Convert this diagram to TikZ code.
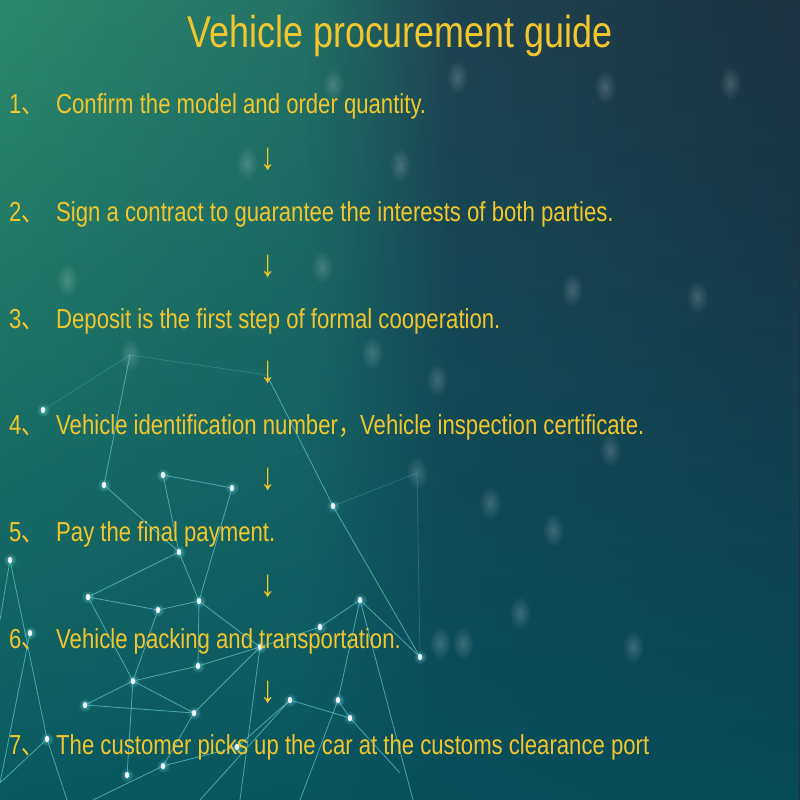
\documentclass[tikz,border=0pt]{standalone}
\usepackage{fontspec}
\setmainfont{Liberation Sans}[FakeStretch=0.805]
\newfontfamily\cjk{Noto Sans CJK SC}[FakeStretch=0.805]
\usetikzlibrary{fadings}
\definecolor{bgA}{RGB}{44,136,106}
\definecolor{bgB}{RGB}{36,114,102}
\definecolor{bgC}{RGB}{30,68,80}
\definecolor{bgD}{RGB}{30,50,64}
\definecolor{bgBot}{RGB}{4,80,94}
\definecolor{txt}{RGB}{242,198,44}
\definecolor{net}{RGB}{110,215,225}
\pgfdeclarehorizontalshading{bgh}{100bp}{color(0bp)=(bgA); color(25bp)=(bgA); color(44bp)=(bgB); color(53bp)=(bgC); color(75bp)=(bgD); color(100bp)=(bgD)}
\tikzfading[name=fuzzy, inner color=transparent!0, outer color=transparent!100]
\tikzset{
  titletext/.style={text=txt, font=\fontsize{44.6}{50}\selectfont, anchor=base, inner sep=0pt},
  numtext/.style={text=txt, font=\fontsize{27.5}{30}\selectfont, anchor=base west, inner sep=0pt},
  itemtext/.style={text=txt, font=\fontsize{27.5}{30}\selectfont, anchor=base west, inner sep=0pt},
  darr/.style={text=txt, font=\fontsize{38}{40}\selectfont, anchor=center, inner sep=0pt},
  netline/.style={draw=net, line width=0.8pt, opacity=0.62},
  faintline/.style={draw=net, line width=0.7pt, opacity=0.25},
  bokeh/.style={fill=white, opacity=0.18, path fading=fuzzy},
  glow/.style={fill=net, opacity=0.6, path fading=fuzzy},
}
\begin{document}
\begin{tikzpicture}[x=1pt,y=-1pt]
\useasboundingbox (0,0) rectangle (800,800);
% background
\shade[shading=bgh] (0,0) rectangle (800,800);
\fill[bgBot, path fading=north, opacity=0.85] (0,0) rectangle (800,800);

% bokeh spots
\foreach \bx/\by in {333/85, 457/77, 605/87, 730/83, 247/163, 400/165, 67/280, 322/267, 372/353, 437/380, 572/290, 697/297, 130/355, 490/503, 553/530, 520/613, 633/647, 440/643, 463/643, 610/450, 417/473}
  \fill[bokeh] (\bx,\by) ellipse (11 and 17);

% network points
\coordinate (A) at (43,410);
\coordinate (B) at (130,355);
\coordinate (C) at (104,485);
\coordinate (U) at (163,475);
\coordinate (V) at (232,488);
\coordinate (W) at (179,552);
\coordinate (X) at (10,560);
\coordinate (Y) at (88,597);
\coordinate (Z) at (158,610);
\coordinate (P2) at (199,601);
\coordinate (D) at (333,506);
\coordinate (E) at (417,473);
\coordinate (F) at (420,657);
\coordinate (G) at (360,600);
\coordinate (I) at (320,627);
\coordinate (J) at (260,647);
\coordinate (M) at (133,681);
\coordinate (N) at (85,705);
\coordinate (O) at (194,713);
\coordinate (P) at (198,666);
\coordinate (K) at (290,700);
\coordinate (H) at (338,700);
\coordinate (L) at (350,718);
\coordinate (Q) at (47,739);
\coordinate (R) at (163,766);
\coordinate (S) at (127,775);
\coordinate (T) at (237,747);
\coordinate (R0) at (267,375);
\coordinate (S6) at (30,633);
\coordinate (e1) at (93,800);
\coordinate (e2) at (200,800);
\coordinate (e3) at (240,800);
\coordinate (e4) at (0,783);
\coordinate (e5) at (67,800);
\coordinate (e6) at (0,620);
\coordinate (e7) at (400,773);
\coordinate (e8) at (413,800);
\coordinate (e9) at (300,800);

\draw[faintline] (A) -- (B) (B) -- (R0) (E) -- (F) (D) -- (E);
\draw[netline] (B) -- (C) (C) -- (W) (U) -- (V) (U) -- (W) (V) -- (P2)
  (W) -- (Y) (W) -- (P2) (Y) -- (Z) (Z) -- (P2) (Y) -- (M) (Z) -- (M)
  (P2) -- (J) (P2) -- (P) (M) -- (P) (P) -- (J) (M) -- (N) (N) -- (O)
  (M) -- (O) (O) -- (J) (M) -- (S) (O) -- (R) (R) -- (e1) (R) -- (T) (T) -- (K)
  (K) -- (L) (H) -- (L) (G) -- (H) (G) -- (F) (D) -- (F) (D) -- (R0)
  (G) -- (e8) (K) -- (e2) (J) -- (e3) (Q) -- (e4) (Q) -- (e5) (X) -- (Q)
  (X) -- (e6) (L) -- (e7) (J) -- (I) (I) -- (G) (H) -- (e9) (S6) -- (e4);

\foreach \p in {A,C,U,V,W,X,Y,Z,P2,D,F,G,I,J,M,N,O,P,K,H,L,Q,R,S,T,S6}{
  \fill[glow] (\p) circle (7);
  \fill[white, opacity=0.9] (\p) ellipse (2.2 and 3.2);
}

% title
\node[titletext] (title) at (400,48) {Vehicle procurement guide};

% numbers
\node[numtext] (n1) at (9,113) {1{\cjk 、}};
\node[numtext] (n2) at (9,221) {2{\cjk 、}};
\node[numtext] (n3) at (9,328) {3{\cjk 、}};
\node[numtext] (n4) at (9,434) {4{\cjk 、}};
\node[numtext] (n5) at (9,541) {5{\cjk 、}};
\node[numtext] (n6) at (9,648) {6{\cjk 、}};
\node[numtext] (n7) at (9,754) {7{\cjk 、}};

% items
\node[itemtext] (t1) at (56,113) {Confirm the model and order quantity.};
\node[itemtext] (t2) at (56,221) {Sign a contract to guarantee the interests of both parties.};
\node[itemtext] (t3) at (56,328) {Deposit is the first step of formal cooperation.};
\node[itemtext] (t4) at (56,434) {Vehicle identification number{\cjk ，}Vehicle inspection certificate.};
\node[itemtext] (t5) at (56,541) {Pay the final payment.};
\node[itemtext] (t6) at (56,648) {Vehicle packing and transportation.};
\node[itemtext] (t7) at (56,754) {The customer picks up the car at the customs clearance port};

% arrows
\node[darr] (a1) at (268,159) {↓};
\node[darr] (a2) at (268,266) {↓};
\node[darr] (a3) at (268,372) {↓};
\node[darr] (a4) at (268,479) {↓};
\node[darr] (a5) at (268,586) {↓};
\node[darr] (a6) at (268,692) {↓};
\end{tikzpicture}
\end{document}
